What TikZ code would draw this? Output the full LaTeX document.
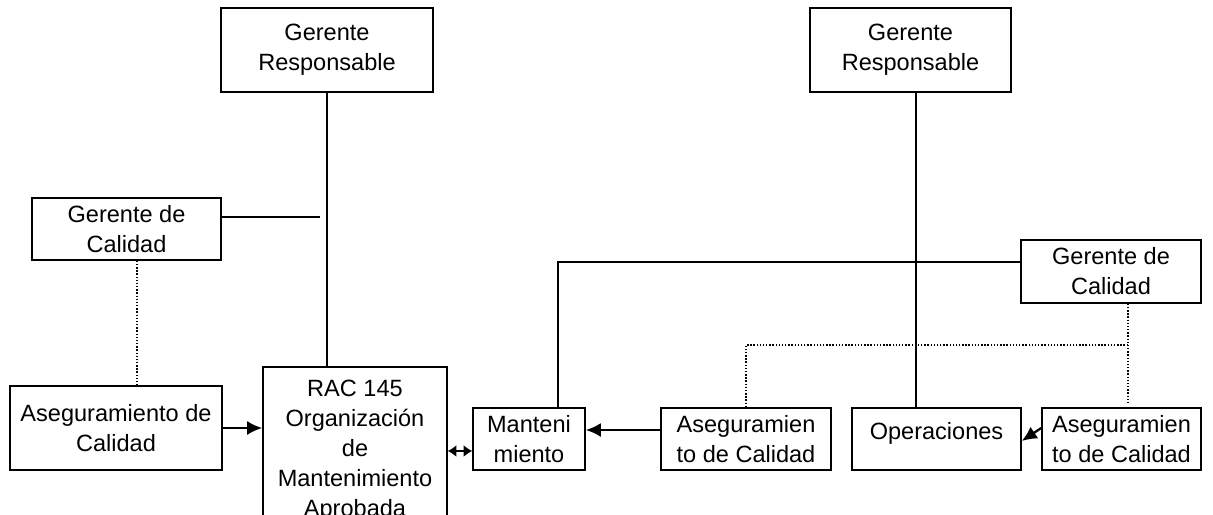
\documentclass[tikz,border=0pt]{standalone}
\usepackage{fontspec}
\setmainfont{Liberation Sans}
\usetikzlibrary{arrows.meta,positioning,calc}

\begin{document}
\begin{tikzpicture}[
    x=0.02cm, y=-0.02cm,
    box/.style={draw, line width=0.9pt, align=center, inner sep=2pt, font=\fontsize{13.4}{17}\selectfont},
    link/.style={line width=0.8pt},
    dotline/.style={line width=0.8pt, densely dotted},
    arrow/.style={line width=1.3pt, -{Latex[length=0.3cm,width=0.28cm]}},
    dblarrow/.style={line width=1.3pt, {Latex[length=0.17cm,width=0.24cm]}-{Latex[length=0.17cm,width=0.24cm]}}
]
\useasboundingbox (0,0) rectangle (1213,514);
\clip (0,0) rectangle (1213,514);

% Define nodes for the left side
\node[box, minimum width=4.24cm, minimum height=1.68cm] (resp1) at (327,50) {Gerente\\Responsable};
\node[box, minimum width=3.78cm, minimum height=1.24cm] (calidad1) at (126.5,229) {Gerente de\\Calidad};
\node[box, minimum width=4.24cm, minimum height=1.68cm] (asegura1) at (116,428) {Aseguramiento de\\Calidad};
\node[box, minimum width=3.68cm, minimum height=3.36cm, anchor=north] (rac) at (355,366) {RAC 145\\Organización\\de\\Mantenimiento\\Aprobada};

% Define nodes for the right side
\node[box, minimum width=2.24cm, minimum height=1.24cm] (mant) at (529,439) {Manteni\\miento};
\node[box, minimum width=3.4cm, minimum height=1.24cm] (asegura2) at (746,439) {Aseguramien\\to de Calidad};
\node[box, minimum width=3.38cm, minimum height=1.24cm, text depth=9pt] (oper) at (936.5,439) {Operaciones};
\node[box, minimum width=3.18cm, minimum height=1.24cm] (asegura3) at (1121.5,439) {Aseguramien\\to de Calidad};
\node[box, minimum width=4.02cm, minimum height=1.68cm] (resp2) at (910.5,50) {Gerente\\Responsable};
\node[box, minimum width=3.6cm, minimum height=1.26cm] (calidad2) at (1111,271.5) {Gerente de\\Calidad};

% Ends and bends of the connectors
\coordinate (calstart) at ($(calidad1.east)+(0,-12)$);
\coordinate (calend) at (320,217);
\coordinate (caldot) at ($(calidad1.south)+(10.5,0)$);
\coordinate (racin) at ($(mant.west)+(0,12)$);
\coordinate (mantin) at ($(asegura2.west)+(0,-9)$);
\coordinate (resp2out) at ($(resp2.south)+(5.5,0)$);
\coordinate (cal2out) at ($(calidad2.west)+(0,-9.5)$);
\coordinate (mantup) at ($(mant.north)+(29,0)$);
\coordinate (cal2dot) at ($(calidad2.south)+(17,0)$);
\coordinate (dotjoin) at (1128,345);
\coordinate (dotend) at (1128,403);

% Connect the left side
\draw[link] (resp1.south) -- (resp1.south |- rac.north);
\draw[link] (calstart) -- (calend);
\draw[dotline] (caldot) -- (caldot |- asegura1.north);
\draw[arrow] (asegura1.east) -- (asegura1.east -| rac.west);
\draw[dblarrow] (racin -| rac.east) -- (racin);

% Connect the right side
\draw[arrow] (mantin) -- (mantin -| mant.east);
\draw[arrow] ($(asegura3.west)+(0,-11)$) -- ($(oper.east)+(0,2)$);
\draw[link] (resp2out) -- (resp2out |- oper.north);
\draw[link] (cal2out) -| (mantup);
\draw[dotline] (cal2dot) -- (dotend);
\draw[dotline] (dotjoin) -| (asegura2.north);

\end{tikzpicture}
\end{document}
